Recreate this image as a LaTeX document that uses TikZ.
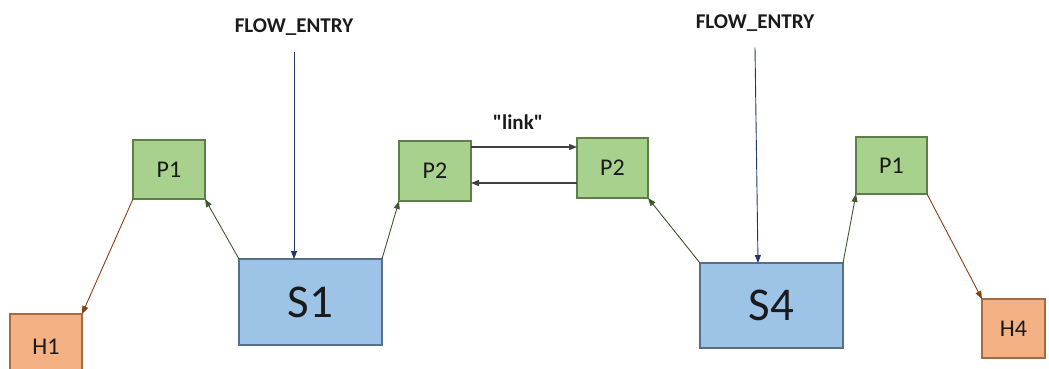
\documentclass[tikz,border=0pt]{standalone}
\usepackage{fontspec}
\setmainfont{Carlito}[Ligatures=TeXOff]
\usetikzlibrary{arrows.meta}
\definecolor{gfill}{HTML}{A9D18E}
\definecolor{gdraw}{HTML}{5E8048}
\definecolor{bfill}{HTML}{9DC3E6}
\definecolor{bdraw}{HTML}{55708A}
\definecolor{ofill}{HTML}{F4B183}
\definecolor{odraw}{HTML}{A86A40}
\definecolor{garrow}{HTML}{3E5A2C}
\definecolor{barrow}{HTML}{1F3864}
\definecolor{oarrow}{HTML}{8A3E12}
\definecolor{txt}{HTML}{1A1A1A}
\tikzset{
  box/.style={draw, line width=1.4pt, inner sep=0pt, outer sep=0pt, anchor=center, text=txt},
  portbox/.style={box, fill=gfill, draw=gdraw, font=\fontsize{24}{26}\selectfont},
  swbox/.style={box, fill=bfill, draw=bdraw, font=\fontsize{47}{50}\selectfont},
  hostbox/.style={box, fill=ofill, draw=odraw, font=\fontsize{24}{26}\selectfont},
  lbl/.style={font=\bfseries\fontsize{21}{23}\selectfont, inner sep=0pt, text=txt},
  tip/.style={-{Triangle[length=8pt,width=6pt]}, line width=0.9pt},
  garr/.style={tip, draw=garrow, color=garrow},
  barr/.style={tip, draw=barrow, color=barrow},
  oarr/.style={tip, draw=oarrow, color=oarrow},
  karr/.style={tip, draw=black!75, color=black!75, line width=1.2pt},
}
\begin{document}
\begin{tikzpicture}[x=1pt,y=-1pt]
\useasboundingbox (0,0) rectangle (1049,369);
\clip (0,0) rectangle (1049,369);
\node[portbox, minimum width=72pt, minimum height=59pt] (P1L) at (169,169.5) {P1};
\node[portbox, minimum width=72pt, minimum height=60pt] (P2L) at (435,171) {P2};
\node[portbox, minimum width=71pt, minimum height=60pt] (P2R) at (612.5,168) {P2};
\node[portbox, minimum width=71pt, minimum height=57pt] (P1R) at (891.5,165.5) {P1};
\node[swbox, minimum width=143pt, minimum height=86pt] (S1) at (310.5,302) {S1};
\node[swbox, minimum width=143pt, minimum height=85pt] (S4) at (771.5,305.5) {S4};
\node[hostbox, minimum width=72pt, minimum height=62pt] (H1) at (46,345) {};
\node[font=\fontsize{24}{26}\selectfont, text=txt] (H1t) at (46,347) {H1};
\node[hostbox, minimum width=63pt, minimum height=59pt] (H4) at (1013.5,328.5) {H4};
\node[lbl] (F1) at (294,27) {FLOW\_ENTRY};
\node[lbl] (F4) at (755,23) {FLOW\_ENTRY};
\node[lbl] (LK) at (518,122) {"link"};
\draw[barr] ([yshift=-16pt]F1.south) -- (F1.south |- S1.north);
\draw[barr] ([yshift=-16pt]F4.south) -- ([xshift=3pt]F4.south |- S4.north);
\draw[garr] (S1.north west) -- (P1L.south east);
\draw[garr] (S1.north east) -- (P2L.south west);
\draw[garr] (S4.north west) -- (P2R.south east);
\draw[garr] (S4.north east) -- (P1R.south west);
\draw[oarr] (P1L.south west) -- (H1.north east);
\draw[oarr] (P1R.south east) -- (H4.north west);
\draw[karr] ([yshift=24pt]P2L.east) -- ([yshift=24pt]P2L.east -| P2R.west);
\draw[karr] ([yshift=-15pt]P2R.west) -- ([yshift=-15pt]P2R.west -| P2L.east);
\end{tikzpicture}
\end{document}
